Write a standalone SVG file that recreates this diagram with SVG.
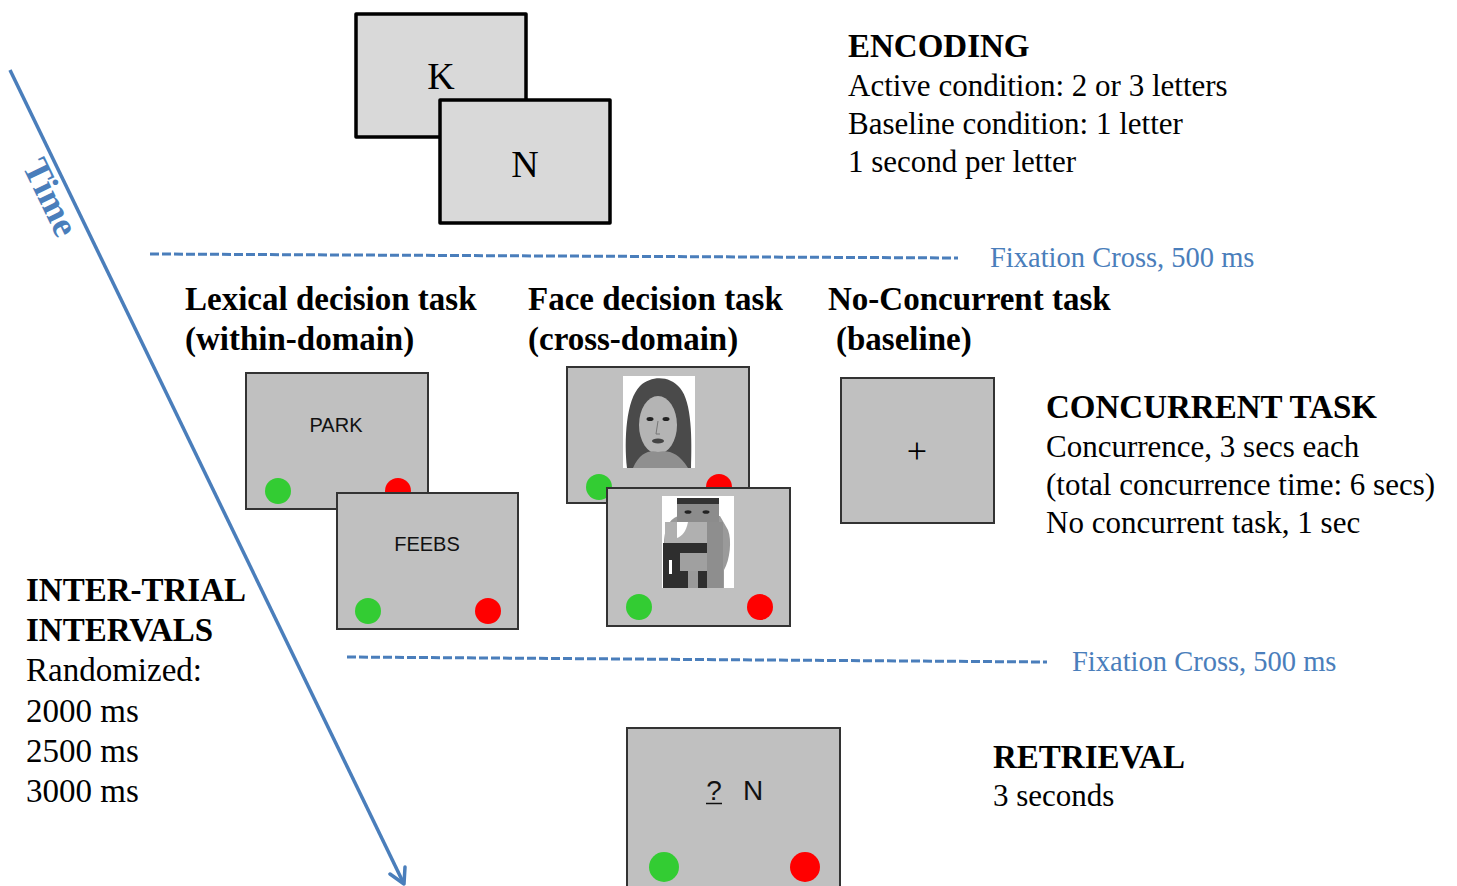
<svg xmlns="http://www.w3.org/2000/svg" width="1457" height="886" viewBox="0 0 1457 886">
<style>
  .serif{font-family:"Liberation Serif","Times New Roman",serif;fill:#000}
  .head{font-family:"Liberation Serif","Times New Roman",serif;font-weight:bold;font-size:33px;fill:#000}
  .body{font-size:31px}
  .lbody{font-size:33px}
  .blue{fill:#4a7ebb}
  .sans{font-family:"Liberation Sans",Arial,sans-serif;fill:#111}
  .enc{fill:#d9d9d9;stroke:#000;stroke-width:3.5;stroke-linejoin:round}
  .scr{fill:#c0c0c0;stroke:#333;stroke-width:2}
  .dash{stroke:#4a7ebb;stroke-width:3;stroke-dasharray:9 3;fill:none}
  .grn{fill:#33cc33}
  .red{fill:#ff0000}
</style>
<rect width="1457" height="886" fill="#fff"/>

<g id="connectors">
  <line x1="10" y1="70" x2="403" y2="882" stroke="#4a7ebb" stroke-width="3.5"/>
  <path d="M390,874 L404,884 L405,867" fill="none" stroke="#4a7ebb" stroke-width="3.5" stroke-linecap="round" stroke-linejoin="round"/>
  <line class="dash" x1="150" y1="254" x2="958" y2="258"/>
  <line class="dash" x1="347" y1="657" x2="1047" y2="662"/>
</g>

<g id="time-label">
  <text class="serif blue" x="22" y="166" font-size="37" font-weight="bold" transform="rotate(64.2 22 166)">Time</text>
</g>

<g id="encoding-screens">
  <rect class="enc" x="356" y="14" width="170" height="123"/>
  <text class="serif" x="441" y="89" font-size="38" text-anchor="middle">K</text>
  <rect class="enc" x="440" y="100" width="170" height="123"/>
  <text class="serif" x="525" y="177" font-size="38" text-anchor="middle">N</text>
</g>

<g id="encoding-text">
  <text class="head" x="848" y="57">ENCODING</text>
  <text class="serif body" x="848" y="96">Active condition: 2 or 3 letters</text>
  <text class="serif body" x="848" y="134">Baseline condition: 1 letter</text>
  <text class="serif body" x="848" y="172">1 second per letter</text>
</g>

<g id="fixation-1">
  <text class="serif blue" x="990" y="267" font-size="28.5">Fixation Cross, 500 ms</text>
</g>

<g id="task-headings">
  <text class="head" x="185" y="310">Lexical decision task</text>
  <text class="head" x="185" y="350">(within-domain)</text>
  <text class="head" x="528" y="310">Face decision task</text>
  <text class="head" x="528" y="350">(cross-domain)</text>
  <text class="head" x="828" y="310">No-Concurrent task</text>
  <text class="head" x="836" y="350">(baseline)</text>
</g>

<g id="lexical-screens">
  <rect class="scr" x="246" y="373" width="182" height="136"/>
  <text class="sans" x="336" y="432" font-size="20" text-anchor="middle">PARK</text>
  <circle class="grn" cx="278" cy="491" r="13"/>
  <circle class="red" cx="398" cy="491" r="13"/>
  <rect class="scr" x="337" y="493" width="181" height="136"/>
  <text class="sans" x="427" y="551" font-size="20" text-anchor="middle">FEEBS</text>
  <circle class="grn" cx="368" cy="611" r="13"/>
  <circle class="red" cx="488" cy="611" r="13"/>
</g>

<g id="face-screens">
  <rect class="scr" x="567" y="367" width="182" height="136"/>
  <g id="face-1">
    <rect x="623" y="376" width="72" height="92" fill="#fff"/>
    <path d="M627,468 C624,440 626,400 640,386 C652,375 670,376 680,388 C692,402 692,440 691,468 Z" fill="#4a4a4a"/>
    <ellipse cx="658" cy="425" rx="19" ry="29" fill="#b4b4b4"/>
    <path d="M633,468 C640,452 650,450 658,452 C668,450 678,452 688,468 Z" fill="#8f8f8f"/>
    <ellipse cx="650" cy="419" rx="3.5" ry="2" fill="#222"/>
    <ellipse cx="666" cy="419" rx="3.5" ry="2" fill="#222"/>
    <path d="M658,421 L656,434 L660,434" fill="none" stroke="#777" stroke-width="1"/>
    <ellipse cx="658" cy="441" rx="6" ry="2.5" fill="#444"/>
  </g>
  <circle class="grn" cx="599" cy="487" r="13"/>
  <circle class="red" cx="719" cy="487" r="13"/>
  <rect class="scr" x="607" y="488" width="183" height="138"/>
  <g id="face-2">
    <rect x="662" y="496" width="72" height="92" fill="#fff"/>
    <path d="M664,545 C664,530 668,520 678,516 L720,516 L728,530 C732,540 730,560 724,570 L724,588 L664,588 Z" fill="#9a9a9a"/>
    <rect x="677" y="498" width="42" height="24" fill="#8c8c8c"/>
    <rect x="677" y="498" width="42" height="6" fill="#333"/>
    <ellipse cx="688" cy="512" rx="3.5" ry="1.8" fill="#222"/>
    <ellipse cx="706" cy="512" rx="3.5" ry="1.8" fill="#222"/>
    <rect x="665" y="522" width="54" height="21" fill="#b0b0b0"/>
    <path d="M677,522 L688,522 C686,532 682,536 677,538 Z" fill="#fff"/>
    <rect x="663" y="543" width="44" height="45" fill="#2e2e2e"/>
    <rect x="680" y="553" width="27" height="18" fill="#a0a0a0"/>
    <rect x="688" y="571" width="10" height="17" fill="#9a9a9a"/>
    <rect x="669" y="560" width="3" height="14" fill="#fff"/>
    <rect x="707" y="522" width="16" height="66" fill="#8e8e8e"/>
  </g>
  <circle class="grn" cx="639" cy="607" r="13"/>
  <circle class="red" cx="760" cy="607" r="13"/>
</g>

<g id="baseline-screen">
  <rect class="scr" x="841" y="378" width="153" height="145"/>
  <text class="serif" x="917" y="463" font-size="36" text-anchor="middle" fill="#333">+</text>
</g>

<g id="concurrent-text">
  <text class="head" x="1046" y="418">CONCURRENT TASK</text>
  <text class="serif body" x="1046" y="457">Concurrence, 3 secs each</text>
  <text class="serif body" x="1046" y="495">(total concurrence time: 6 secs)</text>
  <text class="serif body" x="1046" y="533">No concurrent task, 1 sec</text>
</g>

<g id="iti-text">
  <text class="head" x="26" y="601">INTER-TRIAL</text>
  <text class="head" x="26" y="641">INTERVALS</text>
  <text class="serif lbody" x="26" y="681">Randomized:</text>
  <text class="serif lbody" x="26" y="722">2000 ms</text>
  <text class="serif lbody" x="26" y="762">2500 ms</text>
  <text class="serif lbody" x="26" y="802">3000 ms</text>
</g>

<g id="fixation-2">
  <text class="serif blue" x="1072" y="671" font-size="28.5">Fixation Cross, 500 ms</text>
</g>

<g id="retrieval-screen">
  <rect class="scr" x="627" y="728" width="213" height="170"/>
  <text class="sans" x="714" y="800" font-size="28" text-anchor="middle">?</text>
  <line x1="706" y1="803.5" x2="722" y2="803.5" stroke="#111" stroke-width="1.5"/>
  <text class="sans" x="753" y="800" font-size="28" text-anchor="middle">N</text>
  <circle class="grn" cx="664" cy="867" r="15"/>
  <circle class="red" cx="805" cy="867" r="15"/>
</g>

<g id="retrieval-text">
  <text class="head" x="993" y="768">RETRIEVAL</text>
  <text class="serif body" x="993" y="806">3 seconds</text>
</g>
</svg>
